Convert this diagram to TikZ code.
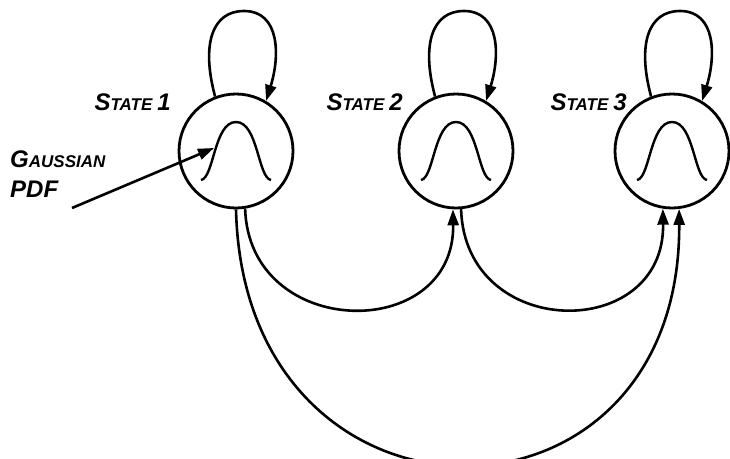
\documentclass[tikz,border=0pt]{standalone}
\usepackage{fontspec}
\setmainfont{Liberation Sans}
\usetikzlibrary{arrows.meta}
\tikzset{
  statenode/.style={circle,draw,line width=2.8pt,minimum size=114pt,inner sep=0pt},
  edge/.style={line width=2.6pt,-{Triangle[length=16pt,width=11pt]}},
  lbl/.style={font=\bfseries\itshape,inner sep=0pt},
  bell/.style={line width=2.4pt}
}
\newcommand{\bigS}[3]{{\fontsize{#3}{#3}\selectfont #1}{\fontsize{17}{17}\selectfont #2}}
\begin{document}
\begin{tikzpicture}[x=1pt,y=-1pt]
\useasboundingbox (0,0) rectangle (730,458);
\node[statenode] (s1) at (236,151) {};
\node[statenode] (s2) at (456,151) {};
\node[statenode] (s3) at (672,151) {};
% gaussians
\foreach \c in {s1,s2,s3}{
  \draw[bell] ([shift={(-35,29)}]\c.center) .. controls +(13,-2) and +(-22,0) .. ([shift={(0,-29)}]\c.center)
     .. controls +(22,0) and +(-13,-2) .. ([shift={(35,29)}]\c.center);
}
% labels
\node[lbl,anchor=base east] (t1) at (171,110) {\bigS{S}{TATE}{24}\hspace{5pt}{\fontsize{24}{24}\selectfont 1}};
\node[lbl,anchor=base east] (t2) at (403,110) {\bigS{S}{TATE}{24}\hspace{5pt}{\fontsize{24}{24}\selectfont 2}};
\node[lbl,anchor=base east] (t3) at (627,110) {\bigS{S}{TATE}{24}\hspace{5pt}{\fontsize{24}{24}\selectfont 3}};
\node[lbl,anchor=base west] (g1) at (10,167) {\bigS{G}{AUSSIAN}{24}};
\node[lbl,anchor=base west] (g2) at (10,197) {\fontsize{24}{24}\selectfont PDF};
\coordinate (gstart) at (72,208);
\coordinate (gend) at (214,148);
\draw[edge] (gstart) -- (gend);
% self loops
\foreach \c in {s1,s2,s3}{
  \draw[edge] (\c.111) .. controls +(-14,-52) and +(-32,0) .. ([shift={(8,-140)}]\c.center)
     .. controls +(36,0) and +(14,-45) .. (\c.59);
}
% bottom arcs
\draw[edge] (s1.-81) .. controls +(4,132) and +(2,134) .. (s2.-93);
\draw[edge] (s2.-85) .. controls +(4,132) and +(2,134) .. (s3.-99);
\draw[edge] (s1.-90) .. controls +(8,340) and +(2,340) .. (s3.-83);
\end{tikzpicture}
\end{document}
